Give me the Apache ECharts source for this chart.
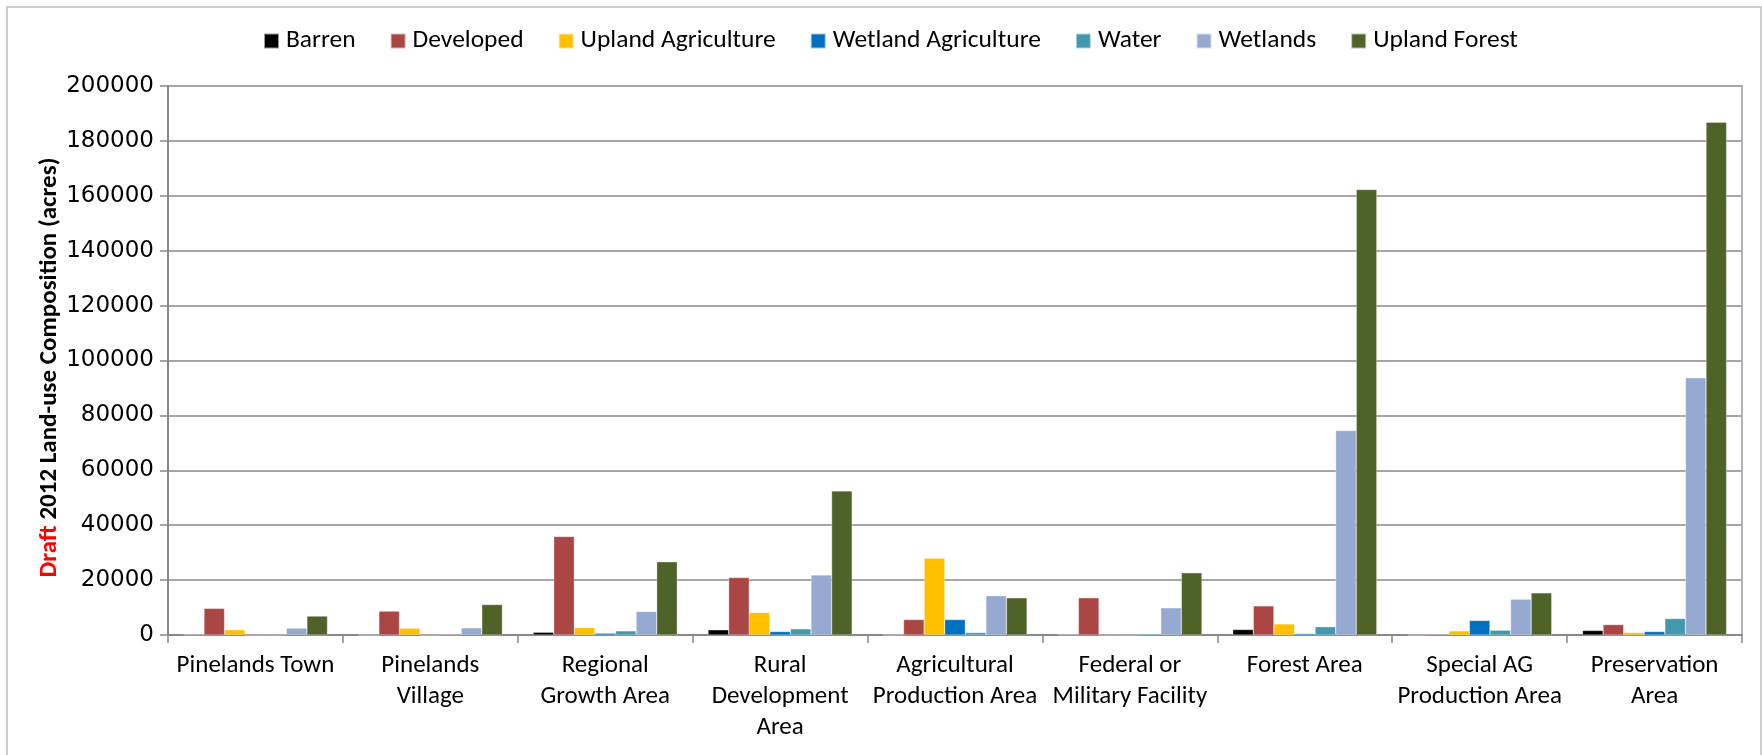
<!DOCTYPE html>
<html>
<head>
<meta charset="utf-8">
<script src="https://cdn.jsdelivr.net/npm/echarts@6/dist/echarts.min.js"></script>
<style>
html,body{margin:0;padding:0;background:#fff;}
#chart{width:1762px;height:755px;}
</style>
</head>
<body>
<div id="chart"></div>
<script>
const categories = [
  "Pinelands Town",
  "Pinelands\nVillage",
  "Regional\nGrowth Area",
  "Rural\nDevelopment\nArea",
  "Agricultural\nProduction Area",
  "Federal or\nMilitary Facility",
  "Forest Area",
  "Special AG\nProduction Area",
  "Preservation\nArea"
];
const barren        = [100, 0, 1000, 1900, 0, 100, 2000, 0, 1650];
const developed     = [9700, 8700, 35900, 20950, 5650, 13550, 10600, 300, 3800];
const uplandAg      = [1900, 2500, 2700, 8200, 28000, 0, 4050, 1500, 900];
const wetlandAg     = [0, 0, 650, 1270, 5650, 0, 500, 5300, 1270];
const water         = [0, 100, 1500, 2250, 900, 400, 3000, 1750, 6000];
const wetlands      = [2500, 2600, 8550, 21900, 14300, 9900, 74500, 13050, 93700];
const uplandForest  = [6900, 11100, 26650, 52500, 13550, 22650, 162300, 15350, 186800];
const yTicks = { min: 0, max: 200000, interval: 20000 };

const seriesDefs = [
  ["Barren", barren, "#000000"],
  ["Developed", developed, "#AA4643"],
  ["Upland Agriculture", uplandAg, "#FFC000"],
  ["Wetland Agriculture", wetlandAg, "#0070C0"],
  ["Water", water, "#4198AF"],
  ["Wetlands", wetlands, "#95A9D1"],
  ["Upland Forest", uplandForest, "#4F6228"]
];

const narrow = "Carlito, 'Liberation Sans Narrow', 'DejaVu Sans Condensed', sans-serif";
const chart = echarts.init(document.getElementById('chart'), null, {renderer: 'canvas'});
chart.setOption({
  animation: false,
  backgroundColor: '#ffffff',
  graphic: [{
    type: 'rect',
    shape: {x: 7, y: 7, width: 1754, height: 780},
    style: {fill: 'none', stroke: '#bfbfbf', lineWidth: 1.5},
    silent: true
  }],
  legend: {
    top: 23,
    left: 258,
    itemWidth: 15,
    itemHeight: 15,
    itemGap: 34,
    icon: 'rect',
    textStyle: {fontFamily: narrow, fontSize: 25.5, color: '#000', padding: [0,0,0,2]},
    data: seriesDefs.map(d => d[0])
  },
  grid: {
    left: 168, right: 20, top: 86, bottom: 120,
    show: true, borderColor: '#9a9a9a', borderWidth: 1.5, backgroundColor: 'transparent'
  },
  xAxis: {
    type: 'category',
    data: categories,
    axisLine: {lineStyle: {color: '#888', width: 2}},
    axisTick: {show: true, length: 8, lineStyle: {color: '#888', width: 1.5}},
    axisLabel: {fontFamily: narrow, fontSize: 25, color: '#000', lineHeight: 31, margin: 15, interval: 0}
  },
  yAxis: {
    type: 'value',
    min: yTicks.min, max: yTicks.max, interval: yTicks.interval,
    name: '{r|Draft} 2012 Land-use Composition (acres)',
    nameLocation: 'middle',
    nameRotate: 90,
    nameGap: 106,
    nameMoveOverlap: false,
    nameTextStyle: {
      fontFamily: narrow, fontSize: 25, fontWeight: 'bold', color: '#000',
      padding: [0, 14, 0, 0],
      rich: {r: {color: '#ff0000', fontFamily: narrow, fontSize: 25, fontWeight: 'bold'}}
    },
    axisLine: {show: true, lineStyle: {color: '#888', width: 2}},
    axisTick: {show: true, length: 8, lineStyle: {color: '#888', width: 1.5}},
    axisLabel: {
      fontFamily: "'DejaVu Sans', sans-serif", fontSize: 23, color: '#000', margin: 14,
      formatter: v => String(v)
    },
    splitLine: {lineStyle: {color: '#a6a6a6', width: 2}}
  },
  series: seriesDefs.map(d => ({
    name: d[0],
    type: 'bar',
    data: d[1],
    barGap: '0%',
    barCategoryGap: '17.6%',
    itemStyle: {color: d[2], borderColor: 'rgba(255,255,255,0.6)', borderWidth: 0.5}
  }))
});
</script>
</body>
</html>
